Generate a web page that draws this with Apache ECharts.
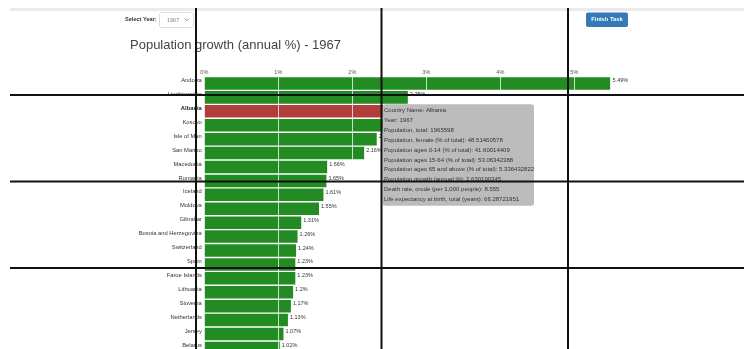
<!DOCTYPE html>
<html><head><meta charset="utf-8">
<script src="https://cdn.jsdelivr.net/npm/echarts@6/dist/echarts.min.js"></script>
<style>
html,body{margin:0;padding:0;width:744px;height:349px;overflow:hidden;background:#fff;}
#chart{position:absolute;left:0;top:0;width:744px;height:360px;}
</style></head><body>
<div id="chart"></div>
<script>
const chartTitle = 'Population growth (annual %) - 1967';
const countries = ['Andorra','Liechtenstein','Albania','Kosovo','Isle of Man','San Marino','Macedonia','Romania','Iceland','Moldova','Gibraltar','Bosnia and Herzegovina','Switzerland','Spain','Faroe Islands','Lithuania','Slovenia','Netherlands','Jersey','Belarus'];
const growth = [5.49, 2.75, 2.63, 2.5, 2.33, 2.16, 1.66, 1.65, 1.61, 1.55, 1.31, 1.26, 1.24, 1.23, 1.23, 1.2, 1.17, 1.13, 1.07, 1.02];
const highlighted = 'Albania';
const xTicks = [0, 1, 2, 3, 4, 5];
const tooltipLines = [
  'Country Name: Albania',
  'Year: 1967',
  'Population, total: 1965598',
  'Population, female (% of total): 48.51460578',
  'Population ages 0-14 (% of total): 41.60014409',
  'Population ages 15-64 (% of total): 53.06342388',
  'Population ages 65 and above (% of total): 5.336432822',
  'Population growth (annual %): 2.630190345',
  'Death rate, crude (per 1,000 people): 8.555',
  'Life expectancy at birth, total (years): 66.28721951'
];

const FONT = 'Arial, "Liberation Sans", sans-serif';
const chart = echarts.init(document.getElementById('chart'), null, {renderer: 'canvas'});

const option = {
  animation: false,
  grid: {left: 204.3, top: 76.5, width: 406.3, height: 278.4, containLabel: false, outerBoundsMode: 'none'},
  xAxis: {
    type: 'value', position: 'top', min: 0, max: Math.max(...growth), interval: 1,
    z: 5,
    axisLine: {show: false}, axisTick: {show: false},
    splitLine: {show: true, lineStyle: {color: 'rgba(255,255,255,0.75)', width: 1}},
    axisLabel: {
      formatter: v => xTicks.includes(v) ? v + '%' : '',
      showMaxLabel: false,
      fontSize: 5.5, color: '#555', margin: 1, fontFamily: FONT
    }
  },
  yAxis: {
    type: 'category', inverse: true, data: countries,
    axisLine: {show: false}, axisTick: {show: false}, splitLine: {show: false},
    axisLabel: {
      fontSize: 5.8, color: '#333', margin: 2.5, fontFamily: FONT,
      verticalAlign: 'bottom', lineHeight: 6,
      formatter: v => v === highlighted ? '{b|' + v + '}' : v,
      rich: {b: {fontWeight: 'bold', fontSize: 5.8, color: '#222', fontFamily: FONT, lineHeight: 6}}
    }
  },
  series: [{
    type: 'bar',
    barCategoryGap: '10%',
    data: growth.map((v, i) => ({
      value: v,
      itemStyle: {color: countries[i] === highlighted ? '#B33C3C' : '#228B22'}
    })),
    label: {
      show: true, position: 'right', distance: 2, offset: [0, -2.5],
      fontSize: 5.5, color: '#333', fontFamily: FONT,
      formatter: p => p.value + '%'
    }
  }],
  graphic: [
    {type: 'rect', shape: {x: 10, y: 8, width: 734, height: 3}, style: {fill: '#ebebeb'}, z: 50},
    {type: 'text', x: 130, y: 45.5, style: {text: chartTitle, font: '13px ' + FONT, fill: '#444', textVerticalAlign: 'middle'}, z: 50},
    {type: 'text', x: 125, y: 19.5, style: {text: 'Select Year:', font: 'bold 5.6px ' + FONT, fill: '#333', textVerticalAlign: 'middle'}, z: 50},
    {type: 'rect', shape: {x: 159.5, y: 12.5, width: 34, height: 15, r: 2}, style: {fill: '#fff', stroke: '#ddd', lineWidth: 1}, z: 50},
    {type: 'text', x: 167, y: 20, style: {text: '1967', font: '5.5px ' + FONT, fill: '#888', textVerticalAlign: 'middle'}, z: 51},
    {type: 'polyline', shape: {points: [[184.5, 18.5], [186.8, 20.8], [189.1, 18.5]]}, style: {stroke: '#888', lineWidth: 0.9, fill: null}, z: 51},
    {type: 'rect', shape: {x: 586, y: 12.5, width: 42, height: 14.5, r: 2}, style: {fill: '#337AB7'}, z: 50},
    {type: 'text', x: 607, y: 19.8, style: {text: 'Finish Task', font: 'bold 5.8px ' + FONT, fill: '#fff', textAlign: 'center', textVerticalAlign: 'middle'}, z: 51},
    {type: 'rect', shape: {x: 382.5, y: 104.3, width: 151.5, height: 101.5, r: 3}, style: {fill: '#bcbcbc'}, z: 80},
    {type: 'text', x: 384, y: 105.8, style: {text: tooltipLines.join('\n'), font: '6px ' + FONT, fill: '#333', lineHeight: 9.85}, z: 81},
    {type: 'line', shape: {x1: 196, y1: 8, x2: 196, y2: 349}, style: {stroke: '#111', lineWidth: 2}, z: 100},
    {type: 'line', shape: {x1: 381.5, y1: 8, x2: 381.5, y2: 349}, style: {stroke: '#111', lineWidth: 2}, z: 100},
    {type: 'line', shape: {x1: 568, y1: 8, x2: 568, y2: 349}, style: {stroke: '#111', lineWidth: 2}, z: 100},
    {type: 'line', shape: {x1: 10, y1: 95, x2: 744, y2: 95}, style: {stroke: '#111', lineWidth: 2}, z: 100},
    {type: 'line', shape: {x1: 10, y1: 181.5, x2: 744, y2: 181.5}, style: {stroke: '#111', lineWidth: 2}, z: 100},
    {type: 'line', shape: {x1: 10, y1: 268, x2: 744, y2: 268}, style: {stroke: '#111', lineWidth: 2}, z: 100}
  ]
};
chart.setOption(option);
</script>
</body></html>
